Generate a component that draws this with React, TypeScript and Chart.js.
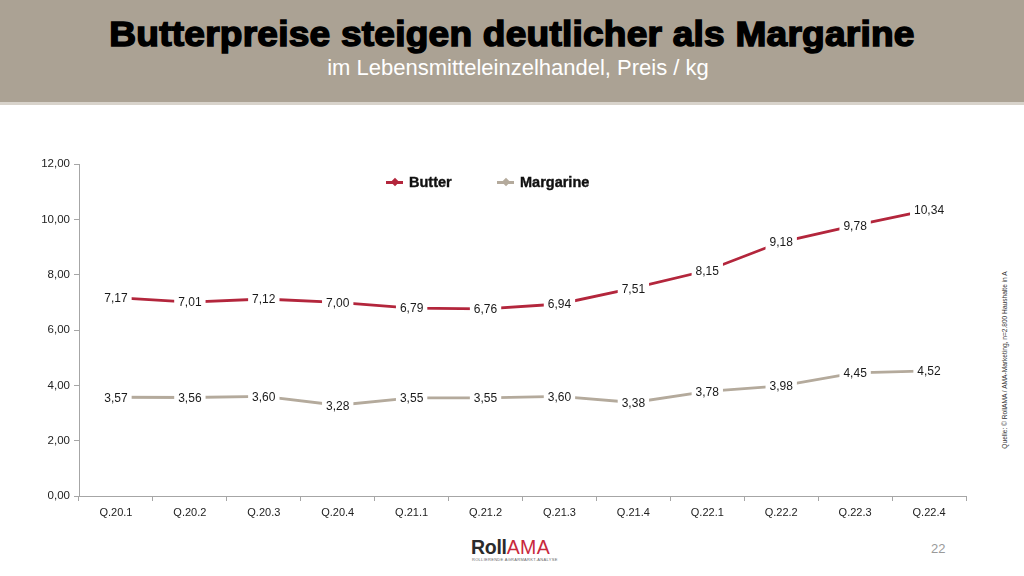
import React, { useEffect, useRef } from "react";
import { Chart, registerables } from "chart.js";

Chart.register(...registerables);

const categories = ["Q.20.1", "Q.20.2", "Q.20.3", "Q.20.4", "Q.21.1", "Q.21.2", "Q.21.3", "Q.21.4", "Q.22.1", "Q.22.2", "Q.22.3", "Q.22.4"];
const butter = [7.17, 7.01, 7.12, 7.0, 6.79, 6.76, 6.94, 7.51, 8.15, 9.18, 9.78, 10.34];
const margarine = [3.57, 3.56, 3.6, 3.28, 3.55, 3.55, 3.6, 3.38, 3.78, 3.98, 4.45, 4.52];
const seriesNames = ["Butter", "Margarine"];
const seriesColors = ["#b3263c", "#b4aa9c"];
const yMin = 0;
const yMax = 12;
const yStep = 2;

const FONT = "'Liberation Sans', Arial, sans-serif";
const fmt = (v: number) => v.toFixed(2).replace(".", ",");

const labelPlugin = {
  id: "valueLabels",
  afterDatasetsDraw(chart: any) {
    const ctx = chart.ctx;
    ctx.save();
    ctx.font = `12px ${FONT}`;
    ctx.textAlign = "center";
    ctx.textBaseline = "middle";
    chart.data.datasets.forEach((ds: any, i: number) => {
      const meta = chart.getDatasetMeta(i);
      meta.data.forEach((pt: any, j: number) => {
        const txt = fmt(ds.data[j]);
        const w = ctx.measureText(txt).width + 8;
        const h = 16;
        ctx.fillStyle = "#ffffff";
        ctx.fillRect(pt.x - w / 2, pt.y - h / 2, w, h);
        ctx.fillStyle = "#1a1a1a";
        ctx.fillText(txt, pt.x, pt.y + 1);
      });
    });
    ctx.restore();
  },
};

function LegendItem({ name, color, left }: { name: string; color: string; left: number }) {
  return (
    <div style={{ position: "absolute", left, top: 174, height: 16, display: "flex", alignItems: "center" }}>
      <div style={{ position: "relative", width: 17, height: 16 }}>
        <div style={{ position: "absolute", left: 0, top: 7, width: 17, height: 2.5, background: color }} />
        <div style={{ position: "absolute", left: 5.5, top: 5, width: 6, height: 6, background: color, transform: "rotate(45deg)" }} />
      </div>
      <span style={{ marginLeft: 6, fontFamily: FONT, fontWeight: 700, fontSize: 14.5, color: "#111", WebkitTextStroke: "0.4px #111" }}>{name}</span>
    </div>
  );
}

export default function App() {
  const ref = useRef<HTMLCanvasElement | null>(null);

  useEffect(() => {
    if (!ref.current) return;
    const chart = new Chart(ref.current, {
      type: "line",
      data: {
        labels: categories,
        datasets: [
          { label: seriesNames[0], data: butter, borderColor: seriesColors[0], backgroundColor: seriesColors[0], borderWidth: 2.8, pointRadius: 0, tension: 0 },
          { label: seriesNames[1], data: margarine, borderColor: seriesColors[1], backgroundColor: seriesColors[1], borderWidth: 2.8, pointRadius: 0, tension: 0 },
        ],
      },
      options: {
        responsive: false,
        animation: false,
        devicePixelRatio: 1,
        layout: { padding: { top: 14, right: 14, left: 0, bottom: 0 } },
        plugins: { legend: { display: false }, tooltip: { enabled: false } },
        scales: {
          x: {
            offset: true,
            grid: { drawOnChartArea: false, drawTicks: true, tickLength: 5, color: "#a6a6a6", offset: true },
            border: { color: "#a6a6a6", width: 1 },
            ticks: { color: "#222", font: { family: FONT, size: 11 }, padding: 5, maxRotation: 0 },
            afterFit: (s: any) => { s.height = 29; },
          },
          y: {
            min: yMin,
            max: yMax,
            grid: { drawOnChartArea: false, drawTicks: true, tickLength: 5, color: "#a6a6a6" },
            border: { color: "#a6a6a6", width: 1 },
            ticks: { stepSize: yStep, color: "#222", font: { family: FONT, size: 11.5 }, padding: 4, callback: (v: any) => fmt(Number(v)) },
            afterFit: (s: any) => { s.width = 49; },
          },
        },
      },
      plugins: [labelPlugin],
    });
    return () => chart.destroy();
  }, []);

  return (
    <div style={{ position: "fixed", left: 0, top: 0, width: 1024, height: 576, background: "#fff", overflow: "hidden", fontFamily: FONT }}>
      <div style={{ position: "absolute", left: 0, top: 0, width: 1024, height: 102, background: "#aba294" }} />
      <div style={{ position: "absolute", left: 0, top: 102, width: 1024, height: 3, background: "#d8d3cb" }} />
      <div style={{ position: "absolute", left: 0, top: 13, width: 1024, textAlign: "center", fontSize: 35, fontWeight: 700, color: "#000", WebkitTextStroke: "1.5px #000", letterSpacing: 0.2, lineHeight: "42px", transform: "scaleX(1.06)" }}>
        Butterpreise steigen deutlicher als Margarine
      </div>
      <div style={{ position: "absolute", left: 6, top: 54, width: 1024, textAlign: "center", fontSize: 22, color: "#fff", lineHeight: "28px" }}>
        im Lebensmitteleinzelhandel, Preis / kg
      </div>
      <div style={{ position: "absolute", left: 30, top: 150, width: 950, height: 375 }}>
        <canvas ref={ref} width={950} height={375} style={{ width: 950, height: 375 }} />
      </div>
      <LegendItem name={seriesNames[0]} color={seriesColors[0]} left={386} />
      <LegendItem name={seriesNames[1]} color={seriesColors[1]} left={497} />
      <div style={{ position: "absolute", left: 1004, top: 360, transform: "translate(-50%, -50%) rotate(-90deg)", whiteSpace: "nowrap", fontSize: 6.6, color: "#333" }}>
        Quelle: © RollAMA / AMA-Marketing, n=2.800 Haushalte in A
      </div>
      <div style={{ position: "absolute", left: 471, top: 537, lineHeight: "20px", fontSize: 19.5, fontWeight: 700, letterSpacing: -0.3 }}>
        <span style={{ color: "#2b2b2b" }}>Roll</span><span style={{ color: "#c8283c", fontWeight: 400, letterSpacing: 0.4 }}>AMA</span>
      </div>
      <div style={{ position: "absolute", left: 472, top: 557, fontSize: 4, color: "#666", letterSpacing: 0.3, whiteSpace: "nowrap" }}>
        ROLLIERENDE AGRARMARKT-ANALYSE
      </div>
      <div style={{ position: "absolute", left: 931, top: 541, fontSize: 13, color: "#9a9a9a" }}>22</div>
    </div>
  );
}
